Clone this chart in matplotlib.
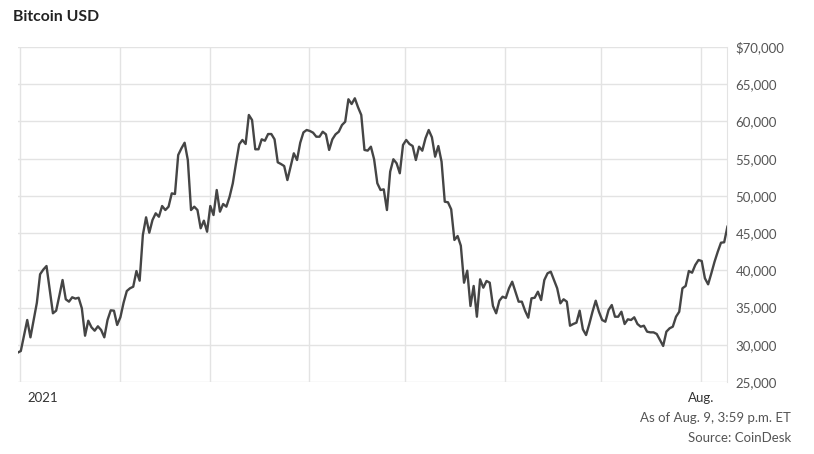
import numpy as np
import pandas as pd
import matplotlib
matplotlib.use('Agg')
import matplotlib.pyplot as plt
import matplotlib.transforms as mtrans

plt.rcParams['font.family'] = ['Lato', 'DejaVu Sans']

# daily bitcoin price, Dec 31 2020 .. Aug 9 2021
dec = [28940]
jan = [29165, 31250, 33330, 31000, 33300, 35650, 39470, 40100, 40580, 37400,
       34230, 34580, 36600, 38700, 36110, 35790, 36380, 36200, 36320, 34900,
       31220, 33230, 32350, 31890, 32480, 31990, 31000, 33330, 34630, 34580,
       32660]
feb = [33690, 35650, 37220, 37590, 37800, 39910, 38610, 44750, 47120, 45060,
       46760, 47660, 47200, 48640, 48100, 48550, 50340, 50250, 55490, 56380,
       57140, 54820, 48100, 48550, 48100, 45650, 46670, 45190]
mar = [48640, 47430, 50790, 47880, 48910, 48550, 49880, 51680, 54370, 56930,
       57510, 56970, 60870, 60190, 56260, 56260, 57600, 57410, 58310, 58310,
       57600, 54510, 54280, 54010, 52130, 53920, 55720, 54820, 57140, 58530,
       58850]
apr = [58720, 58490, 57950, 57950, 58620, 58270, 56170, 57600, 58270, 58620,
       59520, 59960, 62980, 62340, 63110, 61900, 60870, 56170, 56080, 56610,
       54920, 51700, 50790, 50880, 48100, 53250, 54920, 54380, 53040, 56840]
may = [57510, 56970, 56700, 54820, 56610, 56070, 57740, 58850, 57870, 55270,
       56700, 54600, 49220, 49140, 48200, 44080, 44610, 43310, 38340, 39950,
       35210, 37900, 33770, 38790, 37670, 38570, 38340, 35210, 34230, 35920,
       36460]
jun = [36280, 37590, 38470, 37130, 35790, 35790, 34580, 33640, 36240, 36320,
       37130, 36010, 38700, 39600, 39820, 38700, 37590, 35570, 36110, 35790,
       32560, 32790, 32970, 34580, 32080, 31310, 32790, 34440, 35920, 34440]
jul = [33330, 33100, 34670, 35340, 33770, 33770, 34440, 32790, 33420, 33330,
       33690, 32790, 32430, 32560, 31760, 31670, 31670, 31450, 30640, 29840,
       31760, 32210, 32430, 33770, 34440, 37590, 37900, 39910, 39680, 40720,
       41390]
aug = [41250, 38930, 38120, 39600, 41160, 42500, 43710, 43770, 45860]

prices = dec + jan + feb + mar + apr + may + jun + jul + aug
dates = pd.date_range('2020-12-31 06:00', periods=len(prices), freq='D')

month_starts = pd.date_range('2021-01-01', '2021-08-01', freq='MS')
month_labels = ['2021', '', '', '', '', '', '', 'Aug.']
y_ticks = [25000, 30000, 35000, 40000, 45000, 50000, 55000, 60000, 65000, 70000]
y_labels = ['25,000', '30,000', '35,000', '40,000', '45,000', '50,000',
            '55,000', '60,000', '65,000', '$70,000']

grid_c = '#e3e3e3'

fig = plt.figure(figsize=(8.14, 4.54), dpi=100)
ax = fig.add_axes([17.6 / 814, 1 - 382 / 454, (727.4 - 17.6) / 814, 335 / 454])

ax.plot(dates, prices, color='#454545', lw=1.7, solid_joinstyle='round', zorder=3)

ax.set_xlim(dates[0], dates[-1])
ax.set_ylim(25000, 70000)

ax.set_xticks(month_starts)
ax.set_xticklabels(month_labels)
ax.set_yticks(y_ticks)
ax.set_yticklabels(y_labels)
ax.yaxis.tick_right()

ax.grid(True, color=grid_c, lw=1)
ax.set_axisbelow(True)
for s in ['top', 'left', 'bottom']:
    ax.spines[s].set_visible(False)
ax.spines['right'].set_color(grid_c)

ax.tick_params(axis='y', length=0, pad=6, labelsize=9.5, labelcolor='#555555')
ax.tick_params(axis='x', length=0, pad=7, labelsize=9.5, labelcolor='#333333')
lbl = ax.get_xticklabels()
lbl[0].set_horizontalalignment('left')
lbl[0].set_transform(lbl[0].get_transform() + mtrans.ScaledTranslation(7 / 100, 0, fig.dpi_scale_trans))

fig.text(13 / 814, 1 - 17 / 454, 'Bitcoin USD', fontsize=11.3, fontweight='bold',
         color='#222222', va='center', ha='left')
fig.text(791 / 814, 1 - 418 / 454, 'As of Aug. 9, 3:59 p.m. ET', fontsize=9.5,
         color='#555555', va='center', ha='right')
fig.text(791 / 814, 1 - 438 / 454, 'Source: CoinDesk', fontsize=9.5,
         color='#555555', va='center', ha='right')

fig.savefig('out.png', dpi=100, facecolor='white')
